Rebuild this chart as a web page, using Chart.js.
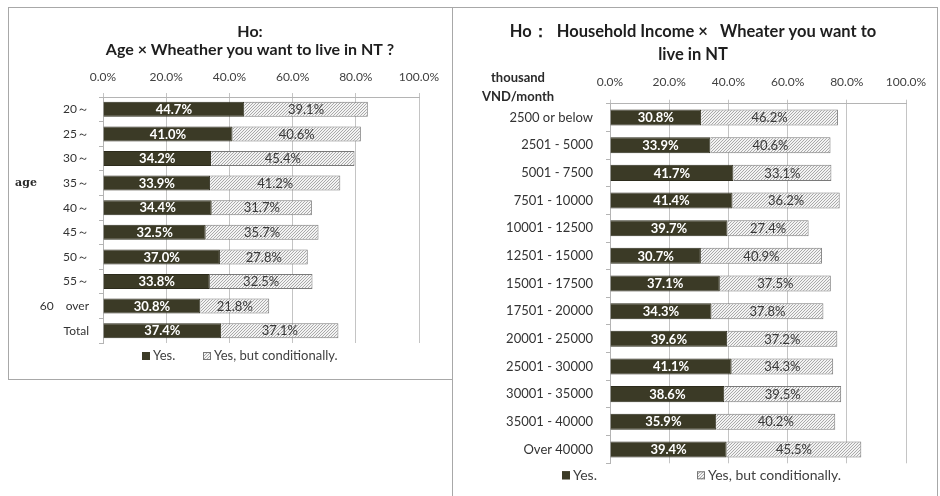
<!DOCTYPE html>
<html>
<head>
<meta charset="utf-8">
<script src="https://cdn.jsdelivr.net/npm/chart.js@4.4.1/dist/chart.umd.min.js"></script>
<style>
  html, body { margin: 0; padding: 0; background: #fff; overflow: hidden; }
  .box { position: absolute; border: 1px solid #a8a8a8; background: #fff; }
  #ageBox { left: 8px; top: 7px; width: 444px; height: 371px; }
  #incomeBox { left: 452px; top: 7px; width: 484px; height: 495px; }
  canvas { display: block; }
</style>
</head>
<body>
<div class="box" id="ageBox"><canvas id="ageChart" width="444" height="371"></canvas></div>
<div class="box" id="incomeBox"><canvas id="incomeChart" width="484" height="495"></canvas></div>
<script>
// answers by age group
const ageLabels = ["20～", "25～", "30～", "35～", "40～", "45～", "50～", "55～", "60　over", "Total"];
const ageYes = [44.7, 41.0, 34.2, 33.9, 34.4, 32.5, 37.0, 33.8, 30.8, 37.4];
const ageCond = [39.1, 40.6, 45.4, 41.2, 31.7, 35.7, 27.8, 32.5, 21.8, 37.1];

// answers by household income (thousand VND / month)
const incomeLabels = ["2500 or below", "2501 - 5000", "5001 - 7500", "7501 - 10000", "10001 - 12500",
  "12501 - 15000", "15001 - 17500", "17501 - 20000", "20001 - 25000", "25001 - 30000",
  "30001 - 35000", "35001 - 40000", "Over 40000"];
const incomeYes = [30.8, 33.9, 41.7, 41.4, 39.7, 30.7, 37.1, 34.3, 39.6, 41.1, 38.6, 35.9, 39.4];
const incomeCond = [46.2, 40.6, 33.1, 36.2, 27.4, 40.9, 37.5, 37.8, 37.2, 34.3, 39.5, 40.2, 45.5];

const xTicks = [0, 20, 40, 60, 80, 100];
const seriesNames = ["Yes.", "Yes, but conditionally."];

Chart.defaults.font.family = "Lato, 'Noto Sans', sans-serif";
Chart.defaults.color = "#404040";

const darkFill = "#3b3a26";

// light grey diagonal hatch for the "conditionally" bars
function hatch() {
  const c = document.createElement("canvas");
  c.width = 3;
  c.height = 3;
  const g = c.getContext("2d");
  g.fillStyle = "#f3f3f3";
  g.fillRect(0, 0, 3, 3);
  g.fillStyle = "#a9a9a9";
  for (let i = 0; i < 3; i++) g.fillRect(i, 2 - i, 1, 1);
  return g.createPattern(c, "repeat");
}
const hatchFill = hatch();

// percentage written in the middle of each bar segment
const barValues = {
  id: "barValues",
  afterDatasetsDraw(chart, args, opts) {
    const ctx = chart.ctx;
    ctx.save();
    ctx.textAlign = "center";
    ctx.textBaseline = "middle";
    chart.data.datasets.forEach((ds, i) => {
      const meta = chart.getDatasetMeta(i);
      ctx.font = opts.fonts[i];
      ctx.fillStyle = opts.colors[i];
      meta.data.forEach((bar, j) => {
        ctx.fillText(ds.data[j].toFixed(1) + "%", (bar.x + bar.base) / 2, bar.y + 0.5);
      });
    });
    ctx.restore();
  },
};

// two-line heading above the axis
const heading = {
  id: "heading",
  afterDraw(chart, args, opts) {
    const ctx = chart.ctx;
    ctx.save();
    ctx.font = opts.font;
    ctx.fillStyle = "#1e1e1e";
    ctx.textAlign = "center";
    ctx.textBaseline = "middle";
    opts.lines.forEach((t, i) => ctx.fillText(t, chart.width / 2 + opts.dx, opts.y[i]));
    ctx.restore();
  },
};

// small square + text legend under the plot
const boxLegend = {
  id: "boxLegend",
  afterDraw(chart, args, opts) {
    const { ctx, chartArea } = chart;
    const y = chartArea.bottom + opts.offsetY;
    ctx.save();
    ctx.font = opts.font;
    ctx.textBaseline = "middle";
    ctx.textAlign = "left";
    chart.data.datasets.forEach((ds, i) => {
      const x = chartArea.left + opts.positions[i];
      ctx.fillStyle = ds.backgroundColor;
      ctx.fillRect(x, y - 4, 8, 8);
      ctx.strokeStyle = i === 0 ? darkFill : "#777";
      ctx.lineWidth = 1;
      ctx.strokeRect(x + 0.5, y - 3.5, 7, 7);
      ctx.fillStyle = "#404040";
      ctx.fillText(ds.label, x + 11, y);
    });
    ctx.restore();
  },
};

// extra axis captions ("age", unit)
const sideNotes = {
  id: "sideNotes",
  afterDraw(chart, args, opts) {
    const { ctx, chartArea, scales } = chart;
    ctx.save();
    ctx.textAlign = "center";
    ctx.textBaseline = "middle";
    opts.items.forEach((n) => {
      ctx.font = n.font;
      ctx.fillStyle = "#2a2a2a";
      const y = n.row !== undefined ? scales.y.getPixelForValue(n.row) : chartArea.top + n.dy;
      ctx.fillText(n.text, chartArea.left + n.dx, y);
    });
    ctx.restore();
  },
};

function makeChart(id, labels, yes, cond, o) {
  return new Chart(document.getElementById(id), {
    type: "bar",
    data: {
      labels: labels,
      datasets: [
        {
          label: seriesNames[0],
          data: yes,
          backgroundColor: darkFill,
          borderColor: "#2c2b1c",
          borderWidth: 1,
          barPercentage: 1,
          categoryPercentage: o.catPct,
        },
        {
          label: seriesNames[1],
          data: cond,
          backgroundColor: hatchFill,
          borderColor: "#7a7a7a",
          borderWidth: 1,
          barPercentage: 1,
          categoryPercentage: o.catPct,
        },
      ],
    },
    options: {
      responsive: false,
      animation: false,
      indexAxis: "y",
      layout: { padding: o.padding },
      scales: {
        x: {
          position: "top",
          stacked: true,
          min: 0,
          max: 100,
          afterBuildTicks: (axis) => {
            axis.ticks = xTicks.map((v) => ({ value: v }));
          },
          afterFit: (axis) => {
            axis.height = o.xHeight;
          },
          ticks: {
            font: { size: 12 },
            padding: o.xPad,
            callback: (v) => v.toFixed(1) + "%",
          },
          grid: { color: "#c4c4c4", tickLength: 4 },
          border: { color: "#b4b4b4" },
        },
        y: {
          stacked: true,
          afterFit: (axis) => {
            axis.width = o.yWidth;
          },
          ticks: { font: { size: o.catSize }, padding: o.yPad, color: "#333" },
          grid: { drawOnChartArea: false, tickLength: 4, color: "#b4b4b4" },
          border: { color: "#b4b4b4" },
        },
      },
      plugins: {
        legend: { display: false },
        tooltip: { enabled: false },
        title: { display: false },
        heading: o.heading,
        barValues: {
          fonts: ["bold 13px Lato", "13px Lato"],
          colors: ["#ffffff", "#3a3a3a"],
        },
        boxLegend: { positions: o.legendAt, offsetY: o.legendY, font: o.legendFont },
        sideNotes: { items: o.notes },
      },
    },
    plugins: [barValues, heading, boxLegend, sideNotes],
  });
}

makeChart("ageChart", ageLabels, ageYes, ageCond, {
  catPct: 0.61,
  padding: { left: 4, right: 34, top: 54.4, bottom: 36 },
  yWidth: 90,
  yPad: 10,
  catSize: 12,
  xHeight: 34.6,
  xPad: 9,
  heading: {
    lines: ["Ho:", "Age × Wheather you want to live in NT ?"],
    font: "bold 16px Lato",
    dx: 19,
    y: [24, 42],
  },
  legendAt: [39, 100],
  legendY: 13,
  legendFont: "13px Lato",
  notes: [{ text: "age", font: "bold 11px 'DejaVu Serif'", dx: -77, row: 3 }],
});

makeChart("incomeChart", incomeLabels, incomeYes, incomeCond, {
  catSize: 13,
  catPct: 0.58,
  padding: { left: 4, right: 31, top: 60, bottom: 39.7 },
  yWidth: 153,
  yPad: 13,
  xHeight: 35.7,
  xPad: 10,
  heading: {
    lines: ["Ho：  Household Income ×   Wheater you want to", "live in NT"],
    font: "bold 16.5px Lato",
    dx: -2,
    y: [24, 47],
  },
  legendAt: [-48, 87],
  legendY: 12,
  legendFont: "14px Lato",
  notes: [
    { text: "thousand", font: "bold 13px Lato", dx: -92, dy: -25.7 },
    { text: "VND/month", font: "bold 13px Lato", dx: -92, dy: -6.7 },
  ],
});
</script>
</body>
</html>
